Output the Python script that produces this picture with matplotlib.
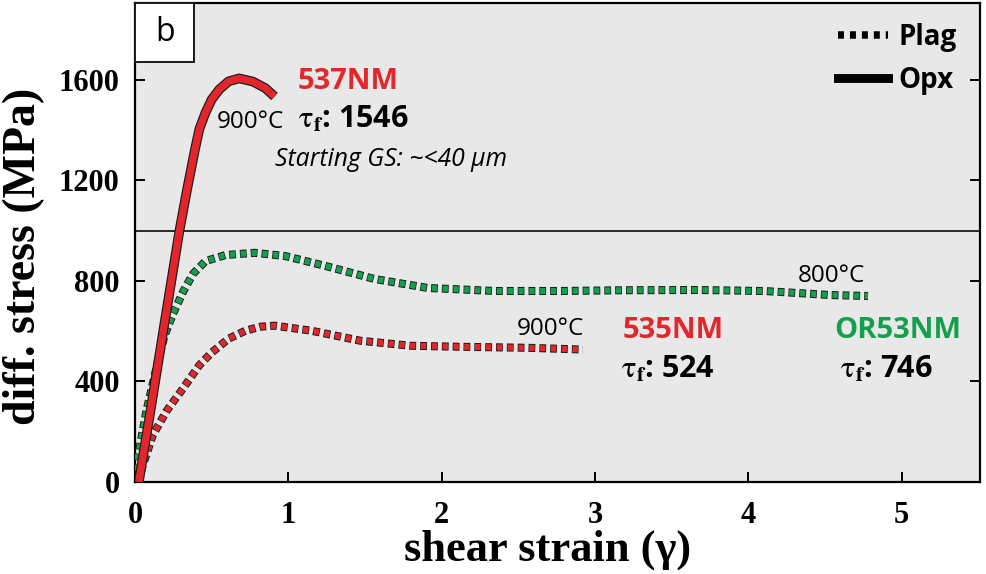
import numpy as np
import matplotlib
matplotlib.use("Agg")
import matplotlib.pyplot as plt
from matplotlib.lines import Line2D
from matplotlib.patches import Rectangle

plt.rcParams['mathtext.fontset'] = 'stix'
plt.rcParams['lines.scale_dashes'] = False

# Opx 537NM (solid red)
opx_strain = [0.025, 0.1, 0.2, 0.29, 0.34, 0.39, 0.42, 0.46, 0.5, 0.55, 0.61, 0.68, 0.77, 0.85, 0.91]
opx_stress = [0, 280, 660, 1000, 1165, 1320, 1405, 1470, 1522, 1562, 1594, 1606, 1593, 1567, 1534]

# Plag OR53NM (green, dashed)
or53_strain = [0.0, 0.008, 0.074, 0.139, 0.193, 0.248, 0.313, 0.378, 0.46, 0.59, 0.78, 0.98,
               1.24, 1.56, 1.91, 2.35, 2.78, 3.2, 3.67, 4.1, 4.32, 4.53, 4.78]
or53_stress = [0, 63, 281, 451, 583, 669, 756, 828, 879, 903, 912, 899,
               860, 808, 772, 760, 760, 763, 764, 760, 752, 744, 740]

# Plag 535NM (red, dashed)
p535_strain = [0.02, 0.052, 0.117, 0.204, 0.313, 0.42, 0.5, 0.61, 0.72, 0.82, 0.91, 1.15,
               1.47, 1.8, 2.12, 2.56, 2.92]
p535_stress = [0, 69, 187, 281, 372, 465, 515, 570, 602, 618, 622, 602,
               562, 542, 538, 534, 527]

x_ticks = [0, 1, 2, 3, 4, 5]
y_ticks = [0, 400, 800, 1200, 1600]

red = '#e3262b'
green = '#12a04c'
edge = '#1a1a1a'

fig = plt.figure(figsize=(9.86, 5.74), dpi=100)
ax = fig.add_axes([0.1369, 0.1603, 0.857, 0.8345])
ax.set_facecolor('#e8e8e8')

# dashed lines: black dashes underneath, slightly shorter coloured dashes on top
on, off, e = 4.9, 2.9, 0.5
per = on + off
for xs, ys, c in [(or53_strain, or53_stress, green), (p535_strain, p535_stress, red)]:
    ax.plot(xs, ys, color=edge, lw=5.8, linestyle=(0, (on, off)),
            dash_capstyle='butt', zorder=3)
    ax.plot(xs, ys, color=c, lw=4.4, linestyle=(per - e, (on - 2 * e, off + 2 * e)),
            dash_capstyle='butt', zorder=3.1)

ax.plot(opx_strain, opx_stress, color=edge, lw=7.0, solid_capstyle='butt', zorder=4)
ax.plot(opx_strain, opx_stress, color=red, lw=5.3, solid_capstyle='butt', zorder=4.1)

ax.axhline(1000, color=edge, lw=1.3, zorder=2)

ax.set_xlim(0, 5.51)
ax.set_ylim(0, 1906)
ax.set_xticks(x_ticks)
ax.set_yticks(y_ticks)
tick_font = dict(family='Liberation Serif', weight='bold', size=22)
ax.set_xticklabels([str(t) for t in x_ticks], fontdict=tick_font)
ax.set_yticklabels([str(t) for t in y_ticks], fontdict=tick_font)
ax.tick_params(direction='in', length=7, width=1.4, right=True)
ax.tick_params(axis='x', pad=14)
ax.tick_params(axis='y', pad=11)
for s in ax.spines.values():
    s.set_linewidth(1.6)

ax.set_xlabel('shear strain (γ)', family='Liberation Serif', weight='bold', size=32)
ax.xaxis.set_label_coords(0.488, -0.10)
ax.xaxis.label.set_va('top')
ax.set_ylabel('diff. stress (MPa)', family='Liberation Serif', weight='bold', size=33)
ax.yaxis.set_label_coords(-0.1065, 0.472)

# panel letter
ax.add_patch(Rectangle((0, 1 - 59 / 479), 59 / 845, 59 / 479, transform=ax.transAxes,
                       fc='white', ec=edge, lw=1.4, zorder=5, clip_on=False))
ax.text(30 / 845, 1 - 30 / 479, 'b', transform=ax.transAxes, ha='center', va='center',
        fontsize=23, family='Open Sans', zorder=6)

sans = 'Open Sans'
tau = r'$\mathrm{\tau}_{\mathbf{f}}$: '
ax.text(1.06, 1592, '537NM', color=red, fontsize=21, weight='bold', family=sans, va='center')
ax.text(1.06, 1442, tau + '1546', color='black', fontsize=22, weight='bold', family=sans, va='center')
ax.text(0.53, 1434, '900°C', fontsize=17.5, family=sans, va='center')
ax.text(0.91, 1283, 'Starting GS: ~<40 µm', fontsize=17.8, style='italic', family=sans, va='center')

ax.text(2.49, 610, '900°C', fontsize=17.5, family=sans, va='center')
ax.text(3.18, 602, '535NM', color=red, fontsize=21, weight='bold', family=sans, va='center')
ax.text(3.17, 448, tau + '524', color='black', fontsize=22, weight='bold', family=sans, va='center')

ax.text(4.32, 820, '800°C', fontsize=17.5, family=sans, va='center')
ax.text(4.56, 602, 'OR53NM', color=green, fontsize=21, weight='bold', family=sans, va='center')
ax.text(4.6, 448, tau + '746', color='black', fontsize=22, weight='bold', family=sans, va='center')

handles = [Line2D([], [], color='black', lw=5.4, linestyle=(0, (4.3, 4.3)), dash_capstyle='butt'),
           Line2D([], [], color='black', lw=6.4)]
ax.legend(handles, ['Plag', 'Opx'], loc='upper right', frameon=False,
          handlelength=1.8, handletextpad=0.36, labelspacing=0.5, borderaxespad=0,
          borderpad=0, prop=dict(family=sans, weight='bold', size=20),
          bbox_to_anchor=(0.972, 0.958))

fig.savefig('out.png', dpi=100)
